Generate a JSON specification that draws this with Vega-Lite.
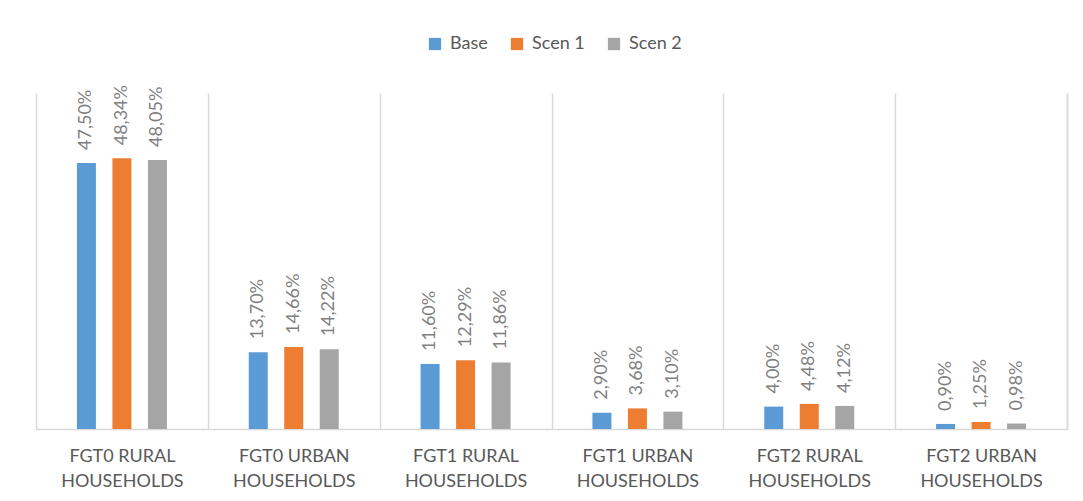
{
  "$schema": "https://vega.github.io/schema/vega-lite/v6.json",
  "width": 1031,
  "height": 336,
  "autosize": "none",
  "padding": {"left": 36, "top": 93, "right": 16, "bottom": 72},
  "background": "white",
  "config": {
    "font": "Lato",
    "view": {"stroke": null},
    "locale": {"number": {"decimal": ",", "thousands": ".", "grouping": [3], "currency": ["", " €"]}}
  },
  "data": {
    "values": [
      {"cat": "FGT0 RURAL HOUSEHOLDS", "series": "Base", "value": 0.4750},
      {"cat": "FGT0 RURAL HOUSEHOLDS", "series": "Scen 1", "value": 0.4834},
      {"cat": "FGT0 RURAL HOUSEHOLDS", "series": "Scen 2", "value": 0.4805},
      {"cat": "FGT0 URBAN HOUSEHOLDS", "series": "Base", "value": 0.1370},
      {"cat": "FGT0 URBAN HOUSEHOLDS", "series": "Scen 1", "value": 0.1466},
      {"cat": "FGT0 URBAN HOUSEHOLDS", "series": "Scen 2", "value": 0.1422},
      {"cat": "FGT1 RURAL HOUSEHOLDS", "series": "Base", "value": 0.1160},
      {"cat": "FGT1 RURAL HOUSEHOLDS", "series": "Scen 1", "value": 0.1229},
      {"cat": "FGT1 RURAL HOUSEHOLDS", "series": "Scen 2", "value": 0.1186},
      {"cat": "FGT1 URBAN HOUSEHOLDS", "series": "Base", "value": 0.0290},
      {"cat": "FGT1 URBAN HOUSEHOLDS", "series": "Scen 1", "value": 0.0368},
      {"cat": "FGT1 URBAN HOUSEHOLDS", "series": "Scen 2", "value": 0.0310},
      {"cat": "FGT2 RURAL HOUSEHOLDS", "series": "Base", "value": 0.0400},
      {"cat": "FGT2 RURAL HOUSEHOLDS", "series": "Scen 1", "value": 0.0448},
      {"cat": "FGT2 RURAL HOUSEHOLDS", "series": "Scen 2", "value": 0.0412},
      {"cat": "FGT2 URBAN HOUSEHOLDS", "series": "Base", "value": 0.0090},
      {"cat": "FGT2 URBAN HOUSEHOLDS", "series": "Scen 1", "value": 0.0125},
      {"cat": "FGT2 URBAN HOUSEHOLDS", "series": "Scen 2", "value": 0.0098}
    ]
  },
  "encoding": {
    "x": {
      "field": "cat", "type": "nominal", "sort": null,
      "scale": {"paddingInner": 0, "paddingOuter": 0},
      "axis": {
        "title": null, "labelAngle": 0, "ticks": false, "tickBand": "extent",
        "grid": true, "gridColor": "#d9d9d9", "gridWidth": 1.5,
        "domainColor": "#d9d9d9", "domainWidth": 1.5,
        "labelFontSize": 18, "labelColor": "#595959", "labelLineHeight": 25,
        "labelPadding": 18, "labelBaseline": "top",
        "labelExpr": "[substring(datum.label,0,10), substring(datum.label,11)]"
      }
    },
    "xOffset": {
      "field": "series", "type": "nominal",
      "scale": {"paddingInner": 0, "paddingOuter": 0.92}
    },
    "y": {
      "field": "value", "type": "quantitative",
      "scale": {"domain": [0, 0.6], "nice": false},
      "axis": {"orient": "right", "title": null, "labels": false, "ticks": false, "grid": false, "domainColor": "#d9d9d9", "domainWidth": 1.5}
    }
  },
  "layer": [
    {
      "mark": {"type": "bar", "width": 19},
      "encoding": {
        "color": {
          "field": "series", "type": "nominal",
          "scale": {"domain": ["Base", "Scen 1", "Scen 2"], "range": ["#5b9bd5", "#ed7d31", "#a5a5a5"]},
          "legend": {
            "title": null, "orient": "none", "direction": "horizontal",
            "legendX": 390, "legendY": -58,
            "symbolType": "square", "symbolSize": 150, "symbolStrokeWidth": 0,
            "labelFontSize": 18, "labelColor": "#595959", "columnPadding": 20, "labelOffset": 6
          }
        }
      }
    },
    {
      "mark": {"type": "text", "angle": -90, "align": "left", "baseline": "middle", "dx": 13, "fontSize": 18, "color": "#7f7f7f"},
      "encoding": {
        "text": {"field": "value", "type": "quantitative", "format": ".2%"}
      }
    }
  ]
}
